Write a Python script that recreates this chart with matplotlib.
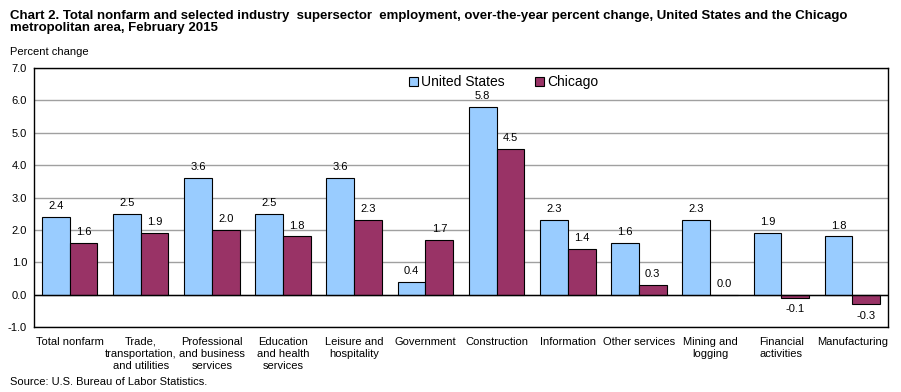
import numpy as np
import matplotlib.pyplot as plt

plt.rcParams['font.family'] = ['Liberation Sans', 'DejaVu Sans']

categories = ['Total nonfarm', 'Trade,\ntransportation,\nand utilities',
              'Professional\nand business\nservices', 'Education\nand health\nservices',
              'Leisure and\nhospitality', 'Government', 'Construction', 'Information',
              'Other services', 'Mining and\nlogging', 'Financial\nactivities',
              'Manufacturing']
us_values = [2.4, 2.5, 3.6, 2.5, 3.6, 0.4, 5.8, 2.3, 1.6, 2.3, 1.9, 1.8]
chicago_values = [1.6, 1.9, 2.0, 1.8, 2.3, 1.7, 4.5, 1.4, 0.3, 0.0, -0.1, -0.3]

blue = '#99CCFF'
maroon = '#993366'

fig = plt.figure(figsize=(9.01, 3.92), dpi=100)
ax = fig.add_axes([0.0377, 0.1658, 0.9479, 0.6607])

x = np.arange(len(categories))
w = 0.39
b1 = ax.bar(x - w / 2, us_values, w, color=blue, edgecolor='black', linewidth=0.8,
            label='United States', zorder=3)
b2 = ax.bar(x + w / 2, chicago_values, w, color=maroon, edgecolor='black', linewidth=0.8,
            label='Chicago', zorder=3)

for bars, vals in ((b1, us_values), (b2, chicago_values)):
    for rect, v in zip(bars, vals):
        cx = rect.get_x() + rect.get_width() / 2
        if v < 0:
            ax.text(cx, v - 0.2, f'{v:.1f}', ha='center', va='top', fontsize=8)
        else:
            ax.text(cx, v + 0.18, f'{v:.1f}', ha='center', va='bottom', fontsize=8)

ax.set_xlim(-0.5, len(categories) - 0.5)
ax.set_ylim(-1.0, 7.0)
ax.set_yticks(np.arange(-1.0, 7.5, 1.0))
ax.set_yticklabels([f'{t:.1f}' for t in np.arange(-1.0, 7.5, 1.0)], fontsize=8)
ax.yaxis.grid(True, color='#a0a0a0', linewidth=1, zorder=0)
ax.axhline(0, color='black', linewidth=1, zorder=4)
ax.set_xticks(x)
ax.set_xticklabels(categories, fontsize=8, linespacing=1.25)
ax.tick_params(axis='x', length=0, pad=7)
ax.tick_params(axis='y', length=0, pad=5)
for s in ax.spines.values():
    s.set_linewidth(1)

ax.legend(loc='upper center', bbox_to_anchor=(0.55, 1.01), ncol=2, frameon=False,
          fontsize=10, handlelength=0.6, handleheight=0.6, handletextpad=0.25,
          columnspacing=2.2, borderaxespad=0.3)

fig.text(0.011, 0.975, 'Chart 2. Total nonfarm and selected industry  supersector  employment, '
         'over-the-year percent change, United States and the Chicago\nmetropolitan area, February 2015',
         fontsize=9.5, fontweight='bold', va='top', ha='left', linespacing=1.05)
fig.text(0.011, 0.868, 'Percent change', fontsize=8, va='center', ha='left')
fig.text(0.011, 0.025, 'Source: U.S. Bureau of Labor Statistics.', fontsize=8, va='center', ha='left')

fig.savefig('out.png', dpi=100)
